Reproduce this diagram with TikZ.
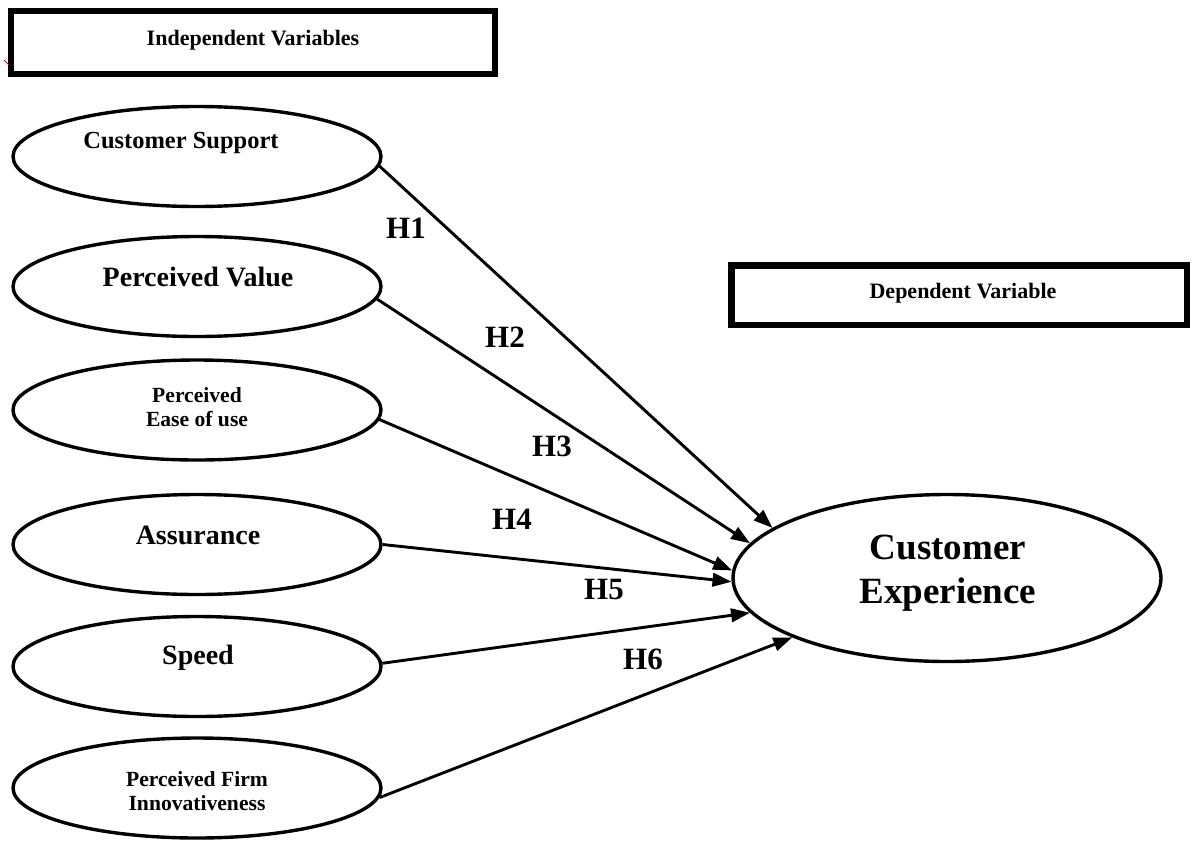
\documentclass[tikz,border=0pt]{standalone}
\usepackage{fontspec}
\setmainfont{Liberation Serif}
\usetikzlibrary{shapes.geometric,arrows.meta}
\begin{document}
\begin{tikzpicture}[x=1pt,y=-1pt,
  ell/.style={ellipse,draw,line width=3.4pt,minimum width=368pt,minimum height=100pt,inner sep=0pt},
  hdrbox/.style={rectangle,draw,line width=6.5pt,inner sep=0pt,font=\bfseries\fontsize{22}{26}\selectfont},
  fsmall/.style={font=\bfseries\fontsize{21.6}{24}\selectfont,align=center},
  fmid/.style={font=\bfseries\fontsize{24.5}{28}\selectfont,align=center},
  flarge/.style={font=\bfseries\fontsize{28}{32}\selectfont,align=center},
  hlab/.style={font=\bfseries\fontsize{31}{36}\selectfont},
  conn/.style={line width=2.9pt,-{Triangle[length=19pt,width=13.5pt]}}
]
\useasboundingbox (0,0) rectangle (1193,841);
% header boxes
\node[hdrbox,minimum width=484pt,minimum height=63pt] (iv) at (253,42.5) {};
\node[hdrbox,draw=none] (ivt) at (253,40) {Independent Variables};
\node[hdrbox,minimum width=455.5pt,minimum height=59.5pt] (dv) at (959,295) {};
\node[hdrbox,draw=none] (dvt) at (963,293) {Dependent Variable};
\draw[red,line width=1pt] (4,60) -- (9,65);
% left ellipses
\node[ell] (cs) at (197,156.5) {};
\node[ell] (pv) at (197,286.5) {};
\node[ell] (peu) at (197,410) {};
\node[ell] (as) at (197,544.5) {};
\node[ell] (sp) at (197,666.5) {};
\node[ell] (pfi) at (197,788) {};
% texts
\node[fmid] (tcs) at (181,143) {Customer Support};
\node[flarge] (tpv) at (198,277) {Perceived Value};
\node[fsmall] (tpeu) at (197,407) {Perceived\\Ease of use};
\node[flarge] (tas) at (198,535) {Assurance};
\node[flarge] (tsp) at (198,658) {Speed};
\node[fsmall] (tpfi) at (197,791) {Perceived Firm\\Innovativeness};
% dependent ellipse
\node[ell,minimum width=428pt,minimum height=167pt] (ce) at (947,578) {};
\node[font=\bfseries\fontsize{37}{44}\selectfont,align=center] (tce) at (948,573) {Customer\\Experience};
% connectors
\draw[conn] (cs.-3) -- (ce.164);
\draw[conn] (pv.-4) -- (ce.170);
\draw[conn] (peu.-3) -- (ce.178);
\draw[conn] (as.0) -- (ce.181);
\draw[conn] (sp.1) -- (ce.190);
\draw[conn] (pfi.-3) -- (ce.201);
% labels
\node[hlab] (h1) at (406,228) {H1};
\node[hlab] (h2) at (505,337) {H2};
\node[hlab] (h3) at (552,446) {H3};
\node[hlab] (h4) at (512,519) {H4};
\node[hlab] (h5) at (604,589) {H5};
\node[hlab] (h6) at (643,659) {H6};
\end{tikzpicture}
\end{document}
